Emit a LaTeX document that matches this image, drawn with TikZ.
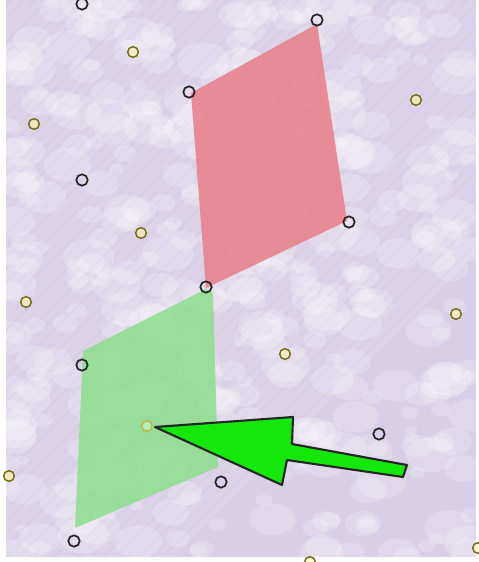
\documentclass[tikz,border=0pt]{standalone}
\begin{document}
\begin{tikzpicture}[x=0.75pt,y=-0.75pt,
  blk/.style={circle,draw=black!85,line width=1.3pt,minimum size=8.5pt,inner sep=0pt},
  ylw/.style={circle,draw=olive!75!black,line width=1.1pt,minimum size=8pt,inner sep=0pt,fill=yellow!35!white,fill opacity=0.55,draw opacity=1}]
\definecolor{lav}{RGB}{216,206,229}
\definecolor{redf}{RGB}{232,128,140}
\definecolor{grnf}{RGB}{140,222,140}
\definecolor{arrowg}{RGB}{20,232,10}
\useasboundingbox (0,0) rectangle (479,562);
\fill[white] (0,0) rectangle (479,562);
\fill[lav] (6,0) rectangle (476,557);
\begin{scope}
\clip (6,0) rectangle (476,557);
\pgfmathsetseed{11}
\foreach \i in {1,...,420}{
  \pgfmathsetmacro{\bx}{6+470*rnd}
  \pgfmathsetmacro{\by}{557*rnd}
  \pgfmathsetmacro{\br}{6+20*rnd}
  \fill[white,opacity=0.22] (\bx,\by) ellipse ({\br} and {0.7*\br});
}
\foreach \k in {-30,...,60}{
  \draw[white,opacity=0.12,line width=4pt] (6+\k*12,0) -- ++(-560,560);
}
\end{scope}
% shapes
\fill[redf,opacity=0.88] (317,24) -- (191,93) -- (206,288) -- (347,221) -- cycle;
\fill[grnf,opacity=0.85] (206,289) -- (83,351) -- (75,528) -- (218,467) -- (213,293) -- cycle;
% circles
\node[blk] (b1) at (82,4) {};
\node[blk] (b2) at (317,20) {};
\node[blk] (b3) at (189,92) {};
\node[blk] (b4) at (82,180) {};
\node[blk] (b5) at (349,222) {};
\node[blk] (b6) at (206,287) {};
\node[blk] (b7) at (82,365) {};
\node[blk] (b8) at (379,434) {};
\node[blk] (b9) at (221,482) {};
\node[blk] (b10) at (74,541) {};
\node[ylw] (y1) at (133,52) {};
\node[ylw] (y2) at (34,124) {};
\node[ylw] (y3) at (416,100) {};
\node[ylw] (y4) at (141,233) {};
\node[ylw] (y5) at (26,302) {};
\node[ylw] (y6) at (456,314) {};
\node[ylw] (y7) at (285,354) {};
\node[ylw,fill=green!20!white,draw=olive!60] (y8) at (147,426) {};
\node[ylw] (y9) at (9,476) {};
\node[ylw] (y10) at (310,562) {};
\node[ylw] (y11) at (478,548) {};
% arrow
\filldraw[fill=arrowg,draw=black!85,line width=1.6pt,line join=round]
  (155,427) -- (293,417) -- (292,444) -- (407,465) -- (403,477) -- (287,460) -- (282,485) -- cycle;
\end{tikzpicture}
\end{document}
